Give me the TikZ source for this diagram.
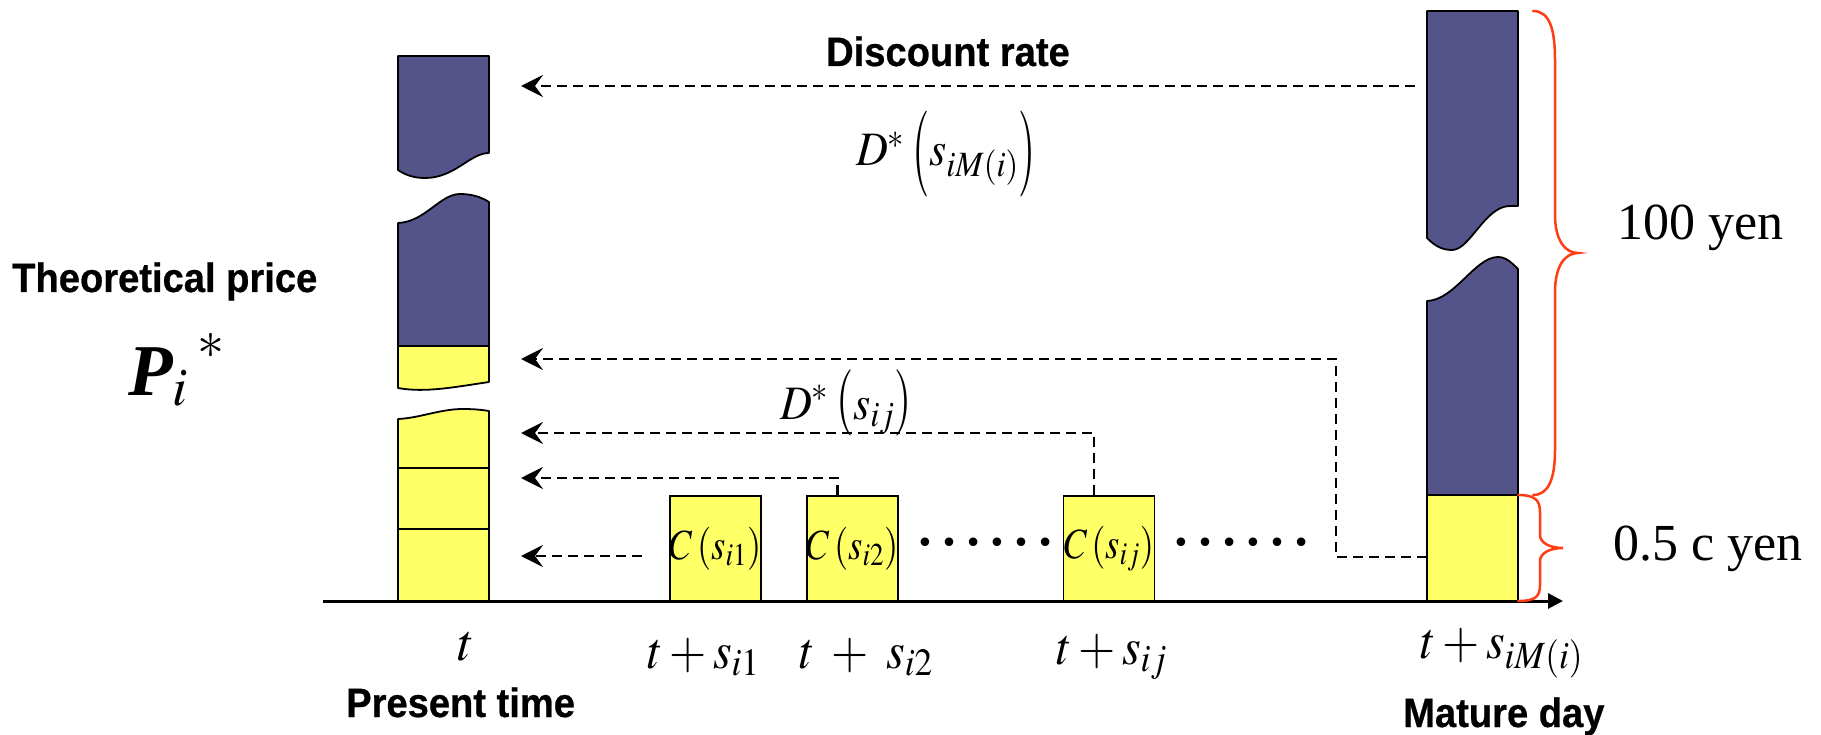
\documentclass[tikz,border=0pt]{standalone}
\usepackage{mathptmx}
\usepackage{fontspec}
\setmainfont{Liberation Serif}
\newfontfamily\lsans[FakeStretch=0.93,FakeBold=0.6]{Liberation Sans}
\usetikzlibrary{arrows.meta}
\definecolor{navy}{RGB}{84,84,138}
\definecolor{yel}{RGB}{255,255,102}
\definecolor{bracered}{RGB}{255,60,20}
\newcommand{\cond}[1]{\scalebox{0.92}[1]{#1}}
\newcommand{\condbox}[1]{\scalebox{0.85}[1]{#1}}
% stretched parentheses: #1 vertical factor, #2 raise
\newcommand{\lpar}[2]{\mathopen{\raisebox{#2}{\scalebox{1}[#1]{$($}}}}
\newcommand{\rpar}[2]{\mathclose{\raisebox{#2}{\scalebox{1}[#1]{$)$}}}}
\tikzset{
  piece/.style={draw=black, line width=1.8pt, line join=round},
  darkfill/.style={piece, fill=navy},
  yelfill/.style={piece, fill=yel},
  cbox/.style={draw=black, line width=1.8pt, fill=yel, minimum width=91pt, minimum height=105pt, inner sep=0pt, font=\fontsize{43}{50}\selectfont},
  dashline/.style={dash pattern=on 10pt off 6pt, line width=2.2pt},
  dasharrow/.style={dashline, -{Stealth[length=22pt,width=22pt,inset=8pt]}},
  bracepath/.style={draw=bracered, line width=2.5pt, line cap=round},
  sanslab/.style={font={\lsans\bfseries\fontsize{41}{48}\selectfont}, inner sep=0pt},
  mathlab/.style={font=\fontsize{52}{62}\selectfont, inner sep=0pt},
  dlab/.style={font=\fontsize{48}{58}\selectfont, inner sep=0pt},
  yenlab/.style={font=\fontsize{52}{62}\selectfont, inner sep=0pt},
  dotlab/.style={font=\fontsize{72}{80}\selectfont, inner sep=0pt},
}
\begin{document}
\begin{tikzpicture}[x=1pt,y=-1pt]
\useasboundingbox (0,0) rectangle (1821,735);

% ---- left column (present value)
\draw[darkfill] (398,56) -- (489,56) -- (489,153) .. controls (470,153) and (455,178) .. (425,178) .. controls (412,178) and (404,174) .. (398,170) -- cycle;
\draw[darkfill] (398,223) .. controls (425,222) and (440,194) .. (460,194) .. controls (472,194) and (481,197) .. (489,202) -- (489,346) -- (398,346) -- cycle;
\draw[yelfill] (398,346) -- (489,346) -- (489,382) .. controls (455,387) and (425,393) .. (398,388) -- cycle;
\draw[yelfill] (398,419) .. controls (420,418) and (440,409) .. (463,409) .. controls (475,409) and (483,410) .. (489,411) -- (489,601) -- (398,601) -- cycle;
\draw[piece] (398,468) -- (489,468);
\draw[piece] (398,529) -- (489,529);

% ---- right column (maturity)
\draw[darkfill] (1427,11) -- (1518,11) -- (1518,206) -- (1510,206) .. controls (1485,206) and (1470,250) .. (1452,250) .. controls (1442,250) and (1435,246) .. (1427,238) -- cycle;
\draw[darkfill] (1427,301) .. controls (1455,300) and (1475,257) .. (1498,257) .. controls (1506,257) and (1512,263) .. (1518,269) -- (1518,495) -- (1427,495) -- cycle;
\draw[yelfill] (1427,495) rectangle (1518,601);

% ---- coupon boxes
\node[cbox] (c1) at (715.5,548.5) {\condbox{$C\,(s_{i1})$}};
\node[cbox] (c2) at (852.5,548.5) {\condbox{$C\,(s_{i2})$}};
\node[cbox] (c3) at (1109,548.5) {\condbox{$C\,(s_{ij})$}};

\node[dotlab, anchor=base] (dots1) at (985,545) {……};
\node[dotlab, anchor=base] (dots2) at (1241,545) {……};

% ---- coordinates for connectors
\coordinate (srcA) at (1415,86);
\coordinate (tipA) at (521,86);
\coordinate (srcB) at (1427,557);
\coordinate (bendB) at (1336,557);
\coordinate (cornB) at (1336,359);
\coordinate (tipB) at (521,359);
\coordinate (tipC) at (521,433);
\coordinate (tipD) at (521,478);
\coordinate (srcE) at (642,556);
\coordinate (tipE) at (521,556);

\draw[dasharrow] (srcA) -- (tipA);
\draw[dasharrow] (srcB) -- (bendB) -- (cornB) -- (tipB);
\draw[dasharrow] ([xshift=-15pt]c3.north) |- (tipC);
\draw[dasharrow] ([xshift=-15pt]c2.north) |- (tipD);
\draw[dasharrow] (srcE) -- (tipE);

% ---- axis
\coordinate (axL) at (323,601);
\coordinate (axR) at (1563,601);
\draw[line width=3pt, -{Triangle[length=15pt,width=15pt]}] (axL) -- (axR);

% ---- braces
\draw[bracepath] (1533,11) .. controls (1550,11) and (1555,30) .. (1555,60) -- (1555,215) .. controls (1555,240) and (1565,253) .. (1578,253) .. controls (1565,253) and (1555,266) .. (1555,292) -- (1555,450) .. controls (1555,480) and (1548,495) .. (1533,495);
\draw[bracepath] (1518,495) .. controls (1535,495) and (1540,500) .. (1540,512) -- (1540,535) .. controls (1540,543) and (1550,548) .. (1563,548) .. controls (1550,548) and (1540,553) .. (1540,561) -- (1540,585) .. controls (1540,597) and (1535,601) .. (1518,601);

% ---- labels
\node[sanslab, anchor=base west] (theo) at (12,292) {Theoretical price};
\node[anchor=base west, inner sep=0pt, font=\fontsize{73}{84}\selectfont] (P) at (128,395) {${\hbox{\bfseries\itshape P}_{i}}^{\mkern3mu\raisebox{10pt}{$\scriptstyle *$}}$};
\node[sanslab, anchor=base] (disc) at (948,66) {Discount rate};
\node[dlab, anchor=base] (DM) at (946,166) {\cond{$D^{*}\mkern3mu\lpar{1.79}{-10pt}s_{iM(i)}\rpar{1.79}{-10pt}$}};
\node[dlab, anchor=base] (Dij) at (846,419) {\cond{$D^{*}\mkern3mu\lpar{1.38}{-1pt}s_{ij}\rpar{1.38}{-1pt}$}};
\node[yenlab, anchor=base west] (y100) at (1617,240) {100 yen};
\node[yenlab, anchor=base west] (yc) at (1613,560) {0.5 c yen};

\node[mathlab, anchor=base] (lt) at (466,660) {$t$};
\node[mathlab, anchor=base west] (l1) at (647,668) {\cond{$t+s_{i1}$}};
\node[mathlab, anchor=base west] (l2) at (799,668) {\cond{$t\mkern4mu+\mkern4mu s_{i2}$}};
\node[mathlab, anchor=base west] (lj) at (1056,664) {\cond{$t+s_{ij}$}};
\node[mathlab, anchor=base west] (lM) at (1420,658) {\cond{$t+s_{iM(i)}$}};

\node[sanslab, anchor=base west] (pres) at (346,717) {Present time};
\node[sanslab, anchor=base west] (mat) at (1403,727) {Mature day};
\end{tikzpicture}
\end{document}
